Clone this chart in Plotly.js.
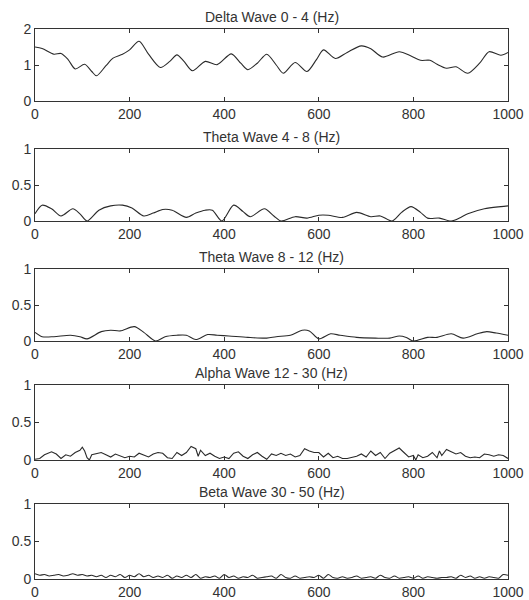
<!DOCTYPE html>
<html>
<head>
<meta charset="utf-8">
<script src="https://cdn.plot.ly/plotly-3.0.1.min.js"></script>
<style>html,body{margin:0;padding:0;background:#fff;}#chart{width:529px;height:600px;}</style>
</head>
<body>
<div id="chart"></div>
<script>
// ---- Data ----
const titles = ["Delta Wave 0 - 4 (Hz)", "Theta Wave 4 - 8 (Hz)", "Theta Wave 8 - 12 (Hz)", "Alpha Wave 12 - 30 (Hz)", "Beta Wave 30 - 50 (Hz)"];

const deltaX = [0, 15, 40, 55, 70, 85, 105, 120, 130, 150, 165, 185, 200, 220, 240, 265, 285, 300, 315, 333, 360, 385, 415, 435, 450, 470, 490, 510, 525, 550, 575, 595, 610, 635, 660, 690, 710, 735, 770, 795, 815, 835, 850, 870, 890, 915, 940, 960, 985, 1000];
const deltaY = [1.50, 1.46, 1.30, 1.32, 1.15, 0.89, 1.02, 0.82, 0.70, 0.98, 1.19, 1.30, 1.42, 1.66, 1.30, 0.93, 1.10, 1.28, 1.10, 0.84, 1.10, 1.01, 1.31, 1.05, 0.87, 1.05, 1.30, 1.00, 0.77, 1.07, 0.82, 1.15, 1.42, 1.18, 1.35, 1.53, 1.45, 1.22, 1.37, 1.25, 1.13, 1.13, 1.02, 0.91, 0.95, 0.77, 1.05, 1.37, 1.27, 1.35];

const theta1X = [0, 15, 35, 55, 80, 95, 110, 135, 160, 185, 205, 230, 250, 270, 290, 320, 340, 360, 375, 395, 420, 440, 455, 485, 505, 520, 550, 575, 600, 620, 650, 680, 710, 730, 755, 775, 795, 815, 830, 855, 880, 900, 915, 950, 985, 1000];
const theta1Y = [0.10, 0.22, 0.17, 0.07, 0.17, 0.10, 0.00, 0.15, 0.21, 0.22, 0.18, 0.07, 0.11, 0.16, 0.15, 0.05, 0.11, 0.15, 0.15, 0.00, 0.22, 0.13, 0.06, 0.17, 0.07, 0.00, 0.06, 0.04, 0.08, 0.08, 0.05, 0.12, 0.06, 0.07, 0.00, 0.12, 0.20, 0.12, 0.04, 0.04, 0.00, 0.05, 0.10, 0.17, 0.20, 0.21];

const theta2X = [0, 15, 40, 75, 95, 110, 140, 160, 180, 210, 230, 255, 275, 300, 320, 340, 365, 385, 410, 450, 490, 510, 540, 565, 580, 600, 625, 645, 680, 720, 750, 770, 785, 800, 830, 850, 880, 905, 935, 955, 975, 1000];
const theta2Y = [0.12, 0.06, 0.06, 0.08, 0.06, 0.03, 0.13, 0.15, 0.14, 0.20, 0.12, 0.00, 0.06, 0.08, 0.08, 0.02, 0.09, 0.08, 0.07, 0.05, 0.04, 0.06, 0.08, 0.15, 0.14, 0.03, 0.10, 0.08, 0.05, 0.04, 0.04, 0.07, 0.05, 0.00, 0.05, 0.05, 0.10, 0.04, 0.10, 0.13, 0.11, 0.08];

const alphaX = [0, 10, 20, 35, 45, 55, 65, 75, 85, 95, 100, 105, 110, 115, 120, 130, 140, 150, 160, 170, 180, 190, 200, 210, 220, 230, 240, 250, 260, 270, 280, 290, 300, 310, 320, 330, 340, 345, 350, 360, 370, 380, 390, 400, 410, 420, 430, 440, 450, 460, 470, 480, 490, 500, 510, 520, 530, 540, 550, 560, 570, 580, 590, 600, 610, 620, 630, 640, 650, 660, 670, 680, 690, 700, 710, 720, 730, 740, 750, 760, 770, 780, 790, 800, 805, 810, 820, 830, 840, 850, 855, 860, 870, 880, 890, 900, 910, 920, 930, 940, 950, 960, 970, 980, 990, 1000];
const alphaY = [0.01, 0.02, 0.07, 0.11, 0.08, 0.02, 0.07, 0.05, 0.10, 0.13, 0.17, 0.12, 0.03, 0.00, 0.07, 0.09, 0.10, 0.07, 0.04, 0.08, 0.06, 0.03, 0.05, 0.04, 0.09, 0.07, 0.04, 0.08, 0.10, 0.09, 0.03, 0.02, 0.10, 0.06, 0.10, 0.18, 0.15, 0.05, 0.13, 0.06, 0.09, 0.05, 0.02, 0.04, 0.02, 0.09, 0.11, 0.05, 0.02, 0.07, 0.10, 0.05, 0.01, 0.08, 0.06, 0.09, 0.06, 0.08, 0.04, 0.06, 0.15, 0.12, 0.10, 0.10, 0.04, 0.09, 0.03, 0.05, 0.02, 0.02, 0.03, 0.05, 0.08, 0.04, 0.12, 0.06, 0.10, 0.02, 0.09, 0.12, 0.16, 0.10, 0.04, 0.06, 0.00, 0.07, 0.03, 0.05, 0.10, 0.03, 0.12, 0.06, 0.14, 0.11, 0.08, 0.10, 0.05, 0.03, 0.04, 0.03, 0.08, 0.07, 0.05, 0.07, 0.06, 0.02];

const betaX = [0, 10, 20, 30, 40, 50, 60, 70, 80, 90, 100, 110, 120, 130, 140, 150, 160, 170, 180, 190, 200, 210, 220, 230, 240, 250, 260, 270, 280, 290, 300, 310, 320, 330, 340, 350, 360, 370, 380, 390, 400, 410, 420, 430, 440, 450, 460, 470, 480, 490, 500, 510, 520, 530, 540, 550, 560, 570, 580, 590, 600, 610, 620, 630, 640, 650, 660, 670, 680, 690, 700, 710, 720, 730, 740, 750, 760, 770, 780, 790, 800, 810, 820, 830, 840, 850, 860, 870, 880, 890, 900, 910, 920, 930, 940, 950, 960, 970, 980, 990, 1000];
const betaY = [0.07, 0.05, 0.06, 0.04, 0.05, 0.06, 0.04, 0.05, 0.07, 0.05, 0.06, 0.04, 0.05, 0.03, 0.05, 0.02, 0.05, 0.03, 0.06, 0.02, 0.05, 0.03, 0.07, 0.03, 0.05, 0.02, 0.04, 0.02, 0.05, 0.01, 0.04, 0.02, 0.05, 0.02, 0.06, 0.01, 0.03, 0.02, 0.04, 0.01, 0.06, 0.02, 0.04, 0.01, 0.03, 0.02, 0.05, 0.01, 0.02, 0.03, 0.04, 0.01, 0.06, 0.02, 0.01, 0.04, 0.01, 0.02, 0.03, 0.02, 0.05, 0.01, 0.06, 0.02, 0.01, 0.03, 0.01, 0.02, 0.04, 0.01, 0.02, 0.03, 0.01, 0.05, 0.02, 0.01, 0.04, 0.01, 0.02, 0.03, 0.01, 0.04, 0.01, 0.03, 0.02, 0.01, 0.02, 0.02, 0.03, 0.01, 0.05, 0.02, 0.04, 0.01, 0.03, 0.01, 0.03, 0.02, 0.01, 0.06, 0.05];

const xTicks = [0, 200, 400, 600, 800, 1000];
const yTicksDelta = [0, 1, 2];
const yTicksOther = [0, 0.5, 1];

// ---- Figure ----
const series = [
  {x: deltaX, y: deltaY, shape: 'spline'},
  {x: theta1X, y: theta1Y, shape: 'spline'},
  {x: theta2X, y: theta2Y, shape: 'spline'},
  {x: alphaX, y: alphaY, shape: 'linear'},
  {x: betaX, y: betaY, shape: 'spline'}
];
// pixel positions of plot boxes (top, bottom)
const boxes = [[29, 101], [149, 221], [269, 341], [385, 460], [504, 579]];
const H = 600;
const txtColor = '#333';
const font = {family: 'Liberation Sans, Arial, sans-serif', size: 14, color: txtColor};

const data = series.map((s, i) => ({
  x: s.x, y: s.y, type: 'scatter', mode: 'lines',
  line: {color: '#2a2a2a', width: 1.1, shape: s.shape, smoothing: 0.8},
  xaxis: i === 0 ? 'x' : 'x' + (i + 1),
  yaxis: i === 0 ? 'y' : 'y' + (i + 1),
  hoverinfo: 'skip'
}));

const layout = {
  width: 529, height: 600,
  margin: {l: 35, r: 21, t: 0, b: 0},
  paper_bgcolor: '#fff', plot_bgcolor: '#fff',
  showlegend: false,
  font: font,
  annotations: []
};

boxes.forEach((b, i) => {
  const xa = i === 0 ? 'xaxis' : 'xaxis' + (i + 1);
  const ya = i === 0 ? 'yaxis' : 'yaxis' + (i + 1);
  const yTicks = i === 0 ? yTicksDelta : yTicksOther;
  layout[xa] = {
    domain: [0, 1], range: [0, 1000], anchor: i === 0 ? 'y' : 'y' + (i + 1),
    tickvals: xTicks, ticktext: xTicks.map(String),
    ticks: 'inside', ticklen: 4, tickcolor: '#333',
    showline: true, linecolor: '#333', linewidth: 1, mirror: 'ticks',
    showgrid: false, zeroline: false, tickfont: font
  };
  layout[ya] = {
    domain: [1 - b[1] / H, 1 - b[0] / H],
    range: [yTicks[0], yTicks[yTicks.length - 1]],
    anchor: i === 0 ? 'x' : 'x' + (i + 1),
    tickvals: yTicks, ticktext: yTicks.map(String),
    ticks: 'inside', ticklen: 4, tickcolor: '#333',
    showline: true, linecolor: '#333', linewidth: 1, mirror: 'ticks',
    showgrid: false, zeroline: false, tickfont: font
  };
  layout.annotations.push({
    text: titles[i], xref: 'paper', yref: 'paper', x: 0.5,
    y: 1 - (b[0] - 12) / H, yanchor: 'middle', xanchor: 'center',
    showarrow: false, font: {family: font.family, size: 14, color: txtColor}
  });
});

Plotly.newPlot('chart', data, layout, {displayModeBar: false, staticPlot: true});
</script>
</body>
</html>
